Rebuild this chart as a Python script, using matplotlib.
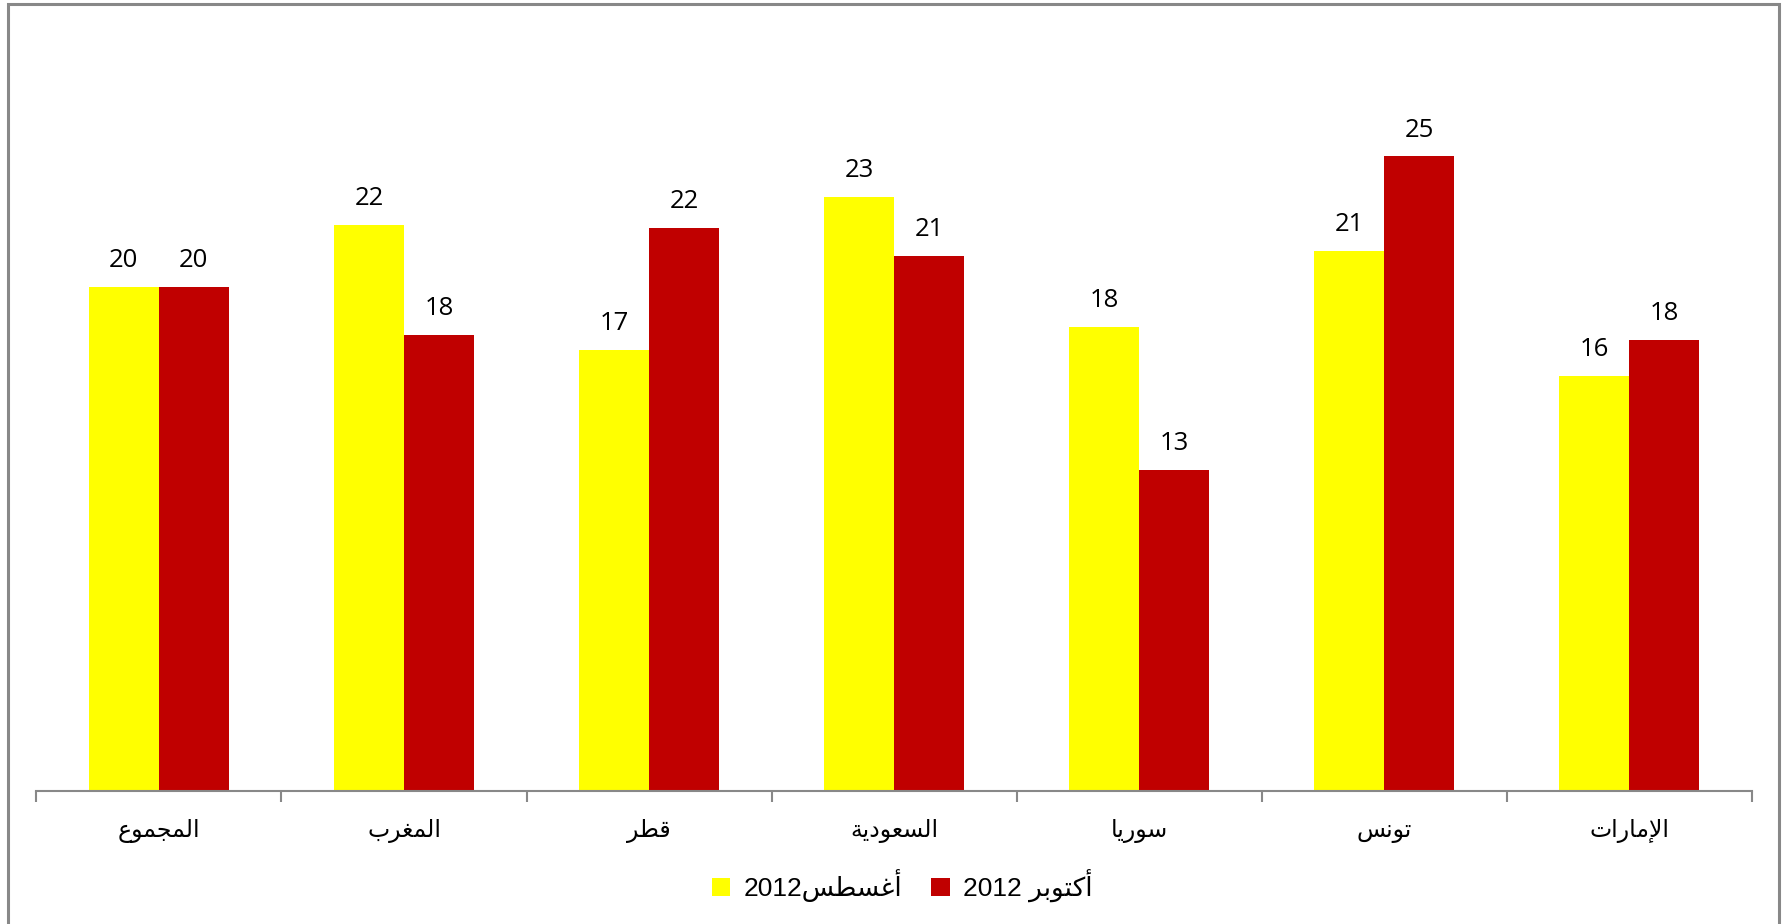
import matplotlib
matplotlib.use("Agg")
import matplotlib.pyplot as plt
import numpy as np
from matplotlib.patches import Rectangle

# categories (logical order)
categorias = ['المجموع', 'المغرب', 'قطر', 'السعودية', 'سوريا', 'تونس', 'الإمارات']
agosto = [19.8, 22.2, 17.3, 23.3, 18.2, 21.2, 16.3]
outubro = [19.8, 17.9, 22.1, 21.0, 12.6, 24.9, 17.7]
series_nomes = ['أغسطس2012', 'أكتوبر 2012']
cores = ['#FFFF00', '#C00000']

# formas contextuais (isolada, final, inicial, medial)
FORMAS = {
    'ا': (0xFE8D, 0xFE8E), 'أ': (0xFE83, 0xFE84), 'إ': (0xFE87, 0xFE88),
    'ب': (0xFE8F, 0xFE90, 0xFE91, 0xFE92), 'ة': (0xFE93, 0xFE94),
    'ت': (0xFE95, 0xFE96, 0xFE97, 0xFE98), 'ج': (0xFE9D, 0xFE9E, 0xFE9F, 0xFEA0),
    'د': (0xFEA9, 0xFEAA), 'ر': (0xFEAD, 0xFEAE),
    'س': (0xFEB1, 0xFEB2, 0xFEB3, 0xFEB4), 'ط': (0xFEC1, 0xFEC2, 0xFEC3, 0xFEC4),
    'ع': (0xFEC9, 0xFECA, 0xFECB, 0xFECC), 'غ': (0xFECD, 0xFECE, 0xFECF, 0xFED0),
    'ق': (0xFED5, 0xFED6, 0xFED7, 0xFED8), 'ك': (0xFED9, 0xFEDA, 0xFEDB, 0xFEDC),
    'ل': (0xFEDD, 0xFEDE, 0xFEDF, 0xFEE0), 'م': (0xFEE1, 0xFEE2, 0xFEE3, 0xFEE4),
    'ن': (0xFEE5, 0xFEE6, 0xFEE7, 0xFEE8), 'و': (0xFEED, 0xFEEE),
    'ي': (0xFEF1, 0xFEF2, 0xFEF3, 0xFEF4),
}
LAM_ALEF = {'ا': (0xFEFB, 0xFEFC), 'أ': (0xFEF7, 0xFEF8), 'إ': (0xFEF9, 0xFEFA)}


def dupla(c):
    return c in FORMAS and len(FORMAS[c]) == 4


def moldar(palavra):
    out = []
    i = 0
    n = len(palavra)
    while i < n:
        c = palavra[i]
        liga_ant = i > 0 and dupla(palavra[i - 1])
        if c == 'ل' and i + 1 < n and palavra[i + 1] in LAM_ALEF:
            f = LAM_ALEF[palavra[i + 1]]
            out.append(chr(f[1] if liga_ant else f[0]))
            i += 2
            continue
        if c not in FORMAS:
            out.append(c)
            i += 1
            continue
        f = FORMAS[c]
        liga_prox = dupla(c) and i + 1 < n and palavra[i + 1] in FORMAS
        if liga_ant and liga_prox:
            out.append(chr(f[3]))
        elif liga_ant:
            out.append(chr(f[1]))
        elif liga_prox:
            out.append(chr(f[2]))
        else:
            out.append(chr(f[0]))
        i += 1
    return ''.join(out)


def tipo_char(c):
    if c in FORMAS:
        return 'ar'
    if c == ' ':
        return 'esp'
    return 'lat'


def ar(texto):
    # blocos arabes / espacos / outros, ordem visual da direita para a esquerda
    blocos = []
    atual = ''
    tipo = None
    for c in texto:
        t = tipo_char(c)
        if tipo is None or t == tipo:
            atual += c
        else:
            blocos.append((tipo, atual))
            atual = c
        tipo = t
    blocos.append((tipo, atual))
    res = []
    for t, b in reversed(blocos):
        res.append(moldar(b)[::-1] if t == 'ar' else b)
    return ''.join(res)


fig = plt.figure(figsize=(17.83, 9.24), dpi=100)
ax = fig.add_axes([0.0204, 0.1435, 0.9622, 0.8279])

x = np.arange(len(categorias))
w = 1 / 3.5
b1 = ax.bar(x - w / 2, agosto, w, color=cores[0], label=ar(series_nomes[0]))
b2 = ax.bar(x + w / 2, outubro, w, color=cores[1], label=ar(series_nomes[1]))

for barras in (b1, b2):
    for r in barras:
        ax.annotate(f"{r.get_height():.0f}", (r.get_x() + r.get_width() / 2, r.get_height()),
                    xytext=(0, 10), textcoords='offset points', ha='center', va='bottom',
                    fontsize=18.5, family='Open Sans', color='black')

ax.set_xlim(-0.5, len(categorias) - 0.5)
ax.set_ylim(0, 30)
ax.set_yticks([])
for s in ['top', 'right', 'left']:
    ax.spines[s].set_visible(False)
ax.spines['bottom'].set_color('#888888')
ax.spines['bottom'].set_linewidth(1.5)

ax.set_xticks(np.arange(len(categorias) + 1) - 0.5)
ax.set_xticklabels([])
ax.tick_params(axis='x', which='major', length=8, width=1.5, color='#888888', direction='out')
ax.set_xticks(x, minor=True)
ax.set_xticklabels([ar(c) for c in categorias], minor=True, fontsize=17,
                   family=['DejaVu Sans'])
ax.tick_params(axis='x', which='minor', length=0, pad=20)

leg = fig.legend(loc='center', bbox_to_anchor=(0.506, 0.041), ncol=2, frameon=False,
                 prop={'family': ['Liberation Sans', 'DejaVu Sans'], 'size': 19},
                 handlelength=0.7, handleheight=0.7, handletextpad=0.5, columnspacing=1.1)

fig.patches.append(Rectangle((8 / 1783, -0.01), 1771 / 1783, 1 - 4 / 924 + 0.01,
                             transform=fig.transFigure, fill=False,
                             edgecolor='#888888', linewidth=2.2))

fig.savefig('out.png', dpi=100)
